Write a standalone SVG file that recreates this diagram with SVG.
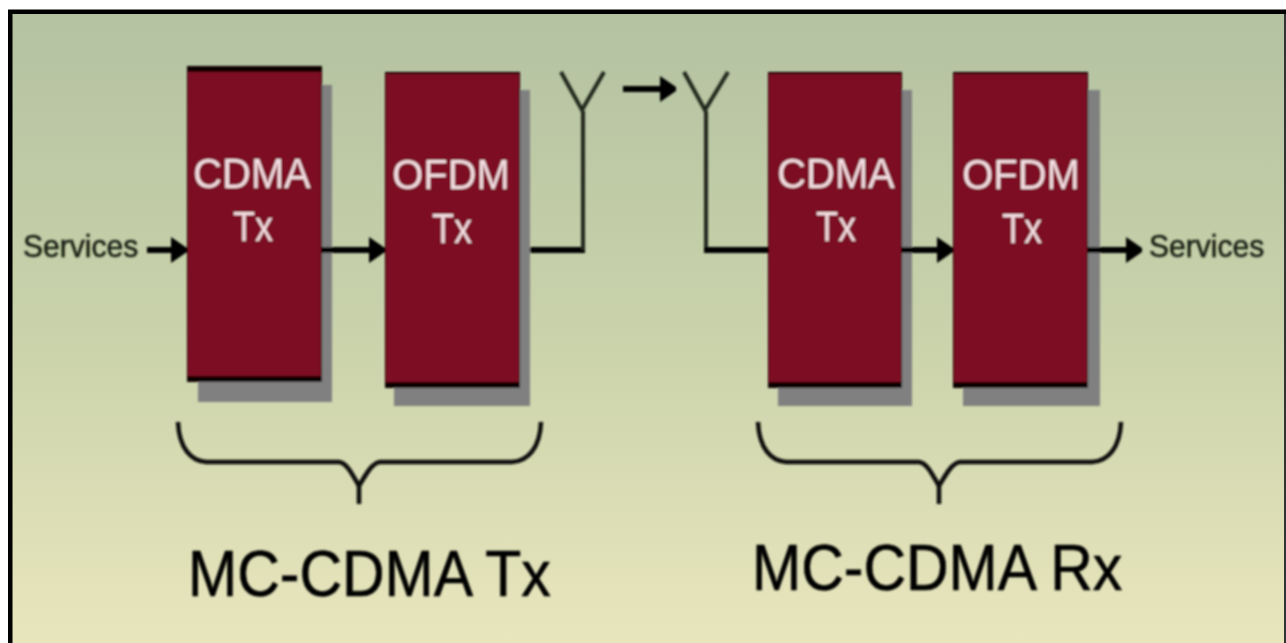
<svg xmlns="http://www.w3.org/2000/svg" width="1286" height="643" viewBox="0 0 1286 643">
<defs>
<linearGradient id="bg" x1="0" y1="0" x2="0" y2="1"><stop offset="0" stop-color="#b4c2a2"/><stop offset="0.5" stop-color="#c9d2aa"/><stop offset="1" stop-color="#e9e6bd"/></linearGradient>
<filter id="soft" x="-5%" y="-5%" width="110%" height="110%"><feGaussianBlur stdDeviation="0.8"/></filter>
<marker id="arrow" viewBox="0 0 16 26" refX="13" refY="13" markerUnits="userSpaceOnUse" markerWidth="16" markerHeight="26" orient="auto"><path d="M0 0L16 11V15L0 26Z" fill="#000"/></marker>
</defs>
<style>
.shadow{fill:#808080}
.box{fill:#7c0a22}
.edge{fill:#0c0406}
.in{font-family:"Liberation Sans",Arial,sans-serif;fill:#f3dfe2;text-anchor:middle;font-size:42px}
.svc{font-family:"Liberation Sans",Arial,sans-serif;fill:#1a2016;stroke:#1a2016;stroke-width:.5;font-size:32px}
.cap{font-family:"Liberation Sans",Arial,sans-serif;fill:#000;stroke:#000;stroke-width:.6;font-size:64px}
.w{fill:none;stroke:#000;stroke-width:6}
.a{fill:none;stroke:#20281c;stroke-width:4}
.b{fill:none;stroke:#10100a;stroke-width:4.500}
</style>
<rect width="1286" height="643" fill="#fff"/>
<rect x="10" y="12" width="1276" height="631" fill="url(#bg)"/>
<path d="M8 643V9.500H1286V14H12.500V643Z" fill="#000"/>
<rect x="1284" y="14" width="2" height="629" fill="#333"/>
<g filter="url(#soft)">
<g id="node-cdma-tx">
<rect class="shadow" x="198" y="85" width="134" height="317"/>
<rect class="edge" x="187" y="66" width="135" height="316"/>
<rect class="box" x="188" y="72" width="133" height="304"/>
<text class="in" transform="translate(252 188) scale(0.95 1)">CDMA</text>
<text class="in" transform="translate(253 241) scale(0.86 1)">Tx</text>
</g>
<g id="node-ofdm-tx">
<rect class="shadow" x="394" y="90" width="136" height="316"/>
<rect class="edge" x="385" y="72" width="135" height="316"/>
<rect class="box" x="386" y="74" width="133" height="308"/>
<text class="in" transform="translate(451 189) scale(0.95 1)">OFDM</text>
<text class="in" transform="translate(452 243) scale(0.86 1)">Tx</text>
</g>
<g id="node-cdma-rx">
<rect class="shadow" x="778" y="90" width="134" height="316"/>
<rect class="edge" x="768" y="72" width="134" height="316"/>
<rect class="box" x="769" y="74" width="132" height="308"/>
<text class="in" transform="translate(836 188) scale(0.95 1)">CDMA</text>
<text class="in" transform="translate(836 241) scale(0.86 1)">Tx</text>
</g>
<g id="node-ofdm-rx">
<rect class="shadow" x="963" y="90" width="137" height="316"/>
<rect class="edge" x="953" y="72" width="135" height="316"/>
<rect class="box" x="954" y="74" width="133" height="308"/>
<text class="in" transform="translate(1021 189) scale(0.95 1)">OFDM</text>
<text class="in" transform="translate(1022 243) scale(0.86 1)">Tx</text>
</g>
<g id="connectors">
<path class="w" d="M147 250H184" marker-end="url(#arrow)"/>
<path class="w" d="M322 250H382" marker-end="url(#arrow)"/>
<path class="w" d="M530 250H585"/>
<path class="a" d="M583 250V111M561 72L582 110L604 72"/>
<path class="w" d="M623 89H673" marker-end="url(#arrow)"/>
<path class="a" d="M706 250V111M684 72L705 110L728 72"/>
<path class="w" d="M704 250H768"/>
<path class="w" d="M902 250H950" marker-end="url(#arrow)"/>
<path class="w" d="M1088 250H1139" marker-end="url(#arrow)"/>
<path class="b" d="M178 422C179 448 191 461 206 462H339C347 463 352 474 359 486C366 474 372 463 380 462H512C528 461 540 448 541 422M359 486V504"/>
<path class="b" d="M758 422C759 448 771 461 786 462H919C927 463 932 474 939 486C946 474 952 463 960 462H1092C1108 461 1120 448 1121 422M939 486V504"/>
</g>
<g id="label-services-in"><text class="svc" transform="translate(23 257) scale(0.94 1)">Services</text></g>
<g id="label-services-out"><text class="svc" transform="translate(1149 257) scale(0.94 1)">Services</text></g>
<g id="label-tx"><text class="cap" transform="translate(188 596) scale(0.922 1)">MC-CDMA Tx</text></g>
<g id="label-rx"><text class="cap" transform="translate(752 590) scale(0.922 1)">MC-CDMA Rx</text></g>
</g>
</svg>
